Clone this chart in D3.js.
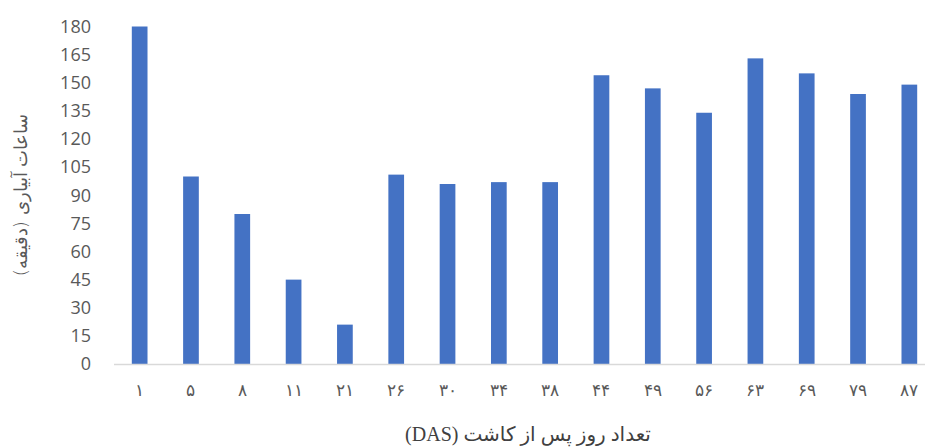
<!DOCTYPE html>
<html>
<head>
<meta charset="utf-8">
<script src="https://cdn.jsdelivr.net/npm/d3@7/dist/d3.min.js"></script>
<style>
  html, body { margin: 0; padding: 0; background: #fff; }
  svg { display: block; }
</style>
</head>
<body>
<svg id="chart" width="925" height="447"></svg>
<script>
// Days after sowing (Persian numerals) and irrigation time in minutes
const days = ["۱", "۵", "۸", "۱۱", "۲۱", "۲۶", "۳۰", "۳۴", "۳۸", "۴۴", "۴۹", "۵۶", "۶۳", "۶۹", "۷۹", "۸۷"];
const minutes = [180, 100, 80, 45, 21, 101, 96, 97, 97, 154, 147, 134, 163, 155, 144, 149];
const yTicks = [0, 15, 30, 45, 60, 75, 90, 105, 120, 135, 150, 165, 180];
const xTitle = "تعداد روز پس از کاشت (DAS)";
const yTitle = "ساعات آبیاری (دقیقه)";

const svg = d3.select("#chart");
const plotLeft = 114, plotRight = 935, plotTop = 26.5, plotBottom = 364;

const x = d3.scaleBand().domain(days).range([plotLeft, plotRight]).paddingInner(0.694).paddingOuter(0.347);
const y = d3.scaleLinear().domain([0, 180]).range([plotBottom, plotTop]);

// bars
svg.append("g").selectAll("rect")
  .data(minutes)
  .join("rect")
  .attr("x", (d, i) => x(days[i]))
  .attr("y", d => y(d))
  .attr("width", x.bandwidth())
  .attr("height", d => y(0) - y(d))
  .attr("fill", "#4472C4");

// baseline
svg.append("line")
  .attr("x1", plotLeft).attr("x2", 925)
  .attr("y1", plotBottom + 0.5).attr("y2", plotBottom + 0.5)
  .attr("stroke", "#d9d9d9").attr("stroke-width", 1.5);

// y axis labels
const yAxis = d3.axisLeft(y).tickValues(yTicks).tickSize(0).tickPadding(0);
const gy = svg.append("g").attr("transform", "translate(91,0)").call(yAxis);
gy.select(".domain").remove();
gy.selectAll("text")
  .attr("fill", "#595959")
  .style("font-family", "'Open Sans', 'Liberation Sans', sans-serif")
  .style("font-size", "18px");

// x axis labels
const xAxis = d3.axisBottom(x).tickSize(0).tickPadding(0);
const gx = svg.append("g").attr("transform", `translate(0,${plotBottom + 20})`).call(xAxis);
gx.select(".domain").remove();
gx.selectAll("text")
  .attr("fill", "#595959")
  .attr("dy", "0.71em")
  .style("font-family", "'DejaVu Sans', sans-serif")
  .style("font-weight", "200")
  .style("font-size", "17px");

// axis titles
svg.append("text")
  .attr("x", 528).attr("y", 441)
  .attr("text-anchor", "middle")
  .attr("direction", "rtl")
  .style("unicode-bidi", "embed")
  .attr("fill", "#404040")
  .style("font-family", "'Liberation Serif', 'DejaVu Sans', serif")
  .style("font-size", "20px")
  .text(xTitle);

svg.append("text")
  .attr("transform", "translate(27,195) rotate(-90)")
  .attr("text-anchor", "middle")
  .attr("direction", "rtl")
  .attr("fill", "#595959")
  .style("font-family", "'DejaVu Sans', sans-serif")
  .style("font-weight", "200")
  .style("font-size", "18px")
  .text(yTitle);
</script>
</body>
</html>
